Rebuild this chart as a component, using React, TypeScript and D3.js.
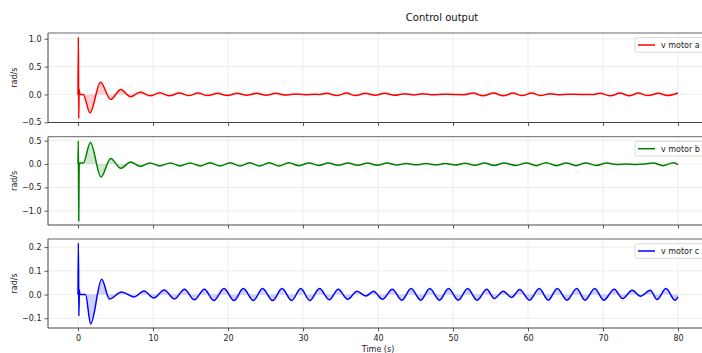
import React, { useEffect, useRef } from 'react';
import * as d3 from 'd3';

// motor a
const timeA = [0, 0.05, 0.1, 0.15, 0.25, 0.7, 1.6, 3.0, 4.35, 5.7, 7.0, 8.3, 9.6, 10.9, 12.2, 13.5, 14.8, 16.0, 17.3, 18.6, 19.9, 21.2, 22.5, 23.8, 25.1, 26.4, 27.7, 29.0, 30.3, 31.6, 32.0, 33.2, 34.5, 35.8, 37.0, 38.3, 39.6, 40.9, 42.2, 43.6, 44.8, 46.0, 47.3, 48.7, 50.0, 51.3, 52.7, 54.0, 55.4, 56.7, 58.0, 59.2, 60.5, 61.7, 62.9, 64.2, 65.4, 67.0, 68.5, 69.6, 71.0, 72.3, 73.5, 74.7, 76.0, 77.4, 78.6, 80.0];
const motorA = [0, 1.03, -0.43, 0.1, 0.0, 0.0, -0.33, 0.22, -0.09, 0.09, -0.04, 0.045, -0.025, 0.03, -0.025, 0.025, -0.02, 0.025, -0.02, 0.02, -0.02, 0.02, -0.015, 0.02, -0.015, 0.02, -0.01, 0.01, -0.005, 0.005, 0.0, 0.02, -0.02, 0.025, -0.02, 0.02, -0.015, 0.02, -0.015, 0.015, -0.01, 0.015, -0.005, 0.005, 0.0, -0.005, 0.025, -0.025, 0.025, -0.025, 0.025, -0.02, 0.025, -0.02, 0.015, -0.005, 0.005, 0.0, 0.0, 0.02, -0.025, 0.025, -0.025, 0.025, -0.02, 0.02, -0.02, 0.025];

// motor b
const timeB = [0, 0.05, 0.1, 0.15, 0.25, 0.7, 1.65, 3.07, 4.35, 5.7, 7.0, 8.3, 9.6, 10.9, 12.3, 13.6, 14.95, 16.3, 17.6, 18.9, 20.3, 21.6, 22.9, 24.2, 25.5, 26.8, 28.1, 29.5, 30.8, 32.1, 33.4, 34.7, 36.0, 37.3, 38.6, 39.9, 41.2, 42.5, 43.8, 45.1, 46.4, 47.7, 49.0, 50.3, 51.6, 52.9, 54.2, 55.5, 56.8, 58.4, 59.8, 61.1, 62.4, 63.8, 65.1, 66.4, 67.7, 69.1, 70.5, 71.8, 73.1, 74.4, 75.6, 76.7, 78.0, 79.4, 80.0];
const motorB = [0, 0.5, -1.22, -0.06, 0.02, 0.02, 0.46, -0.28, 0.12, -0.09, 0.045, -0.05, 0.025, -0.04, 0.025, -0.04, 0.025, -0.04, 0.028, -0.04, 0.028, -0.04, 0.028, -0.04, 0.028, -0.04, 0.028, -0.035, 0.025, -0.03, 0.02, -0.025, 0.02, -0.025, 0.02, -0.025, 0.02, -0.02, 0.01, -0.015, 0.01, -0.015, 0.01, -0.02, 0.015, -0.025, 0.02, -0.03, 0.02, -0.03, 0.025, -0.035, 0.03, -0.035, 0.025, -0.035, 0.025, -0.03, 0.02, -0.01, 0.0, -0.01, 0.0, 0.025, -0.035, 0.03, -0.014];

// motor c
const timeC = [0, 0.05, 0.12, 0.18, 0.25, 1.0, 1.69, 3.16, 4.2, 5.8, 7.47, 8.8, 10.1, 11.5, 12.85, 14.2, 15.5, 16.85, 18.1, 19.47, 20.8, 22.04, 23.4, 24.6, 25.96, 27.2, 28.5, 29.7, 30.9, 32.2, 33.5, 34.7, 35.96, 37.2, 38.4, 39.4, 40.6, 41.9, 43.2, 44.4, 45.7, 46.9, 48.2, 49.4, 50.7, 51.96, 53.2, 54.5, 55.5, 56.7, 57.8, 58.9, 60.2, 61.5, 62.7, 63.9, 65.2, 66.5, 67.6, 68.9, 70.1, 71.5, 72.6, 73.9, 75.0, 76.3, 77.2, 78.4, 79.6, 80.0];
const motorC = [0, 0.217, -0.09, 0.02, 0.0, 0.0, -0.124, 0.064, -0.019, 0.011, -0.01, 0.015, -0.015, 0.019, -0.019, 0.022, -0.022, 0.022, -0.025, 0.025, -0.025, 0.025, -0.025, 0.025, -0.025, 0.025, -0.025, 0.025, -0.025, 0.025, -0.022, 0.022, -0.02, 0.014, -0.006, 0.014, -0.02, 0.022, -0.024, 0.025, -0.024, 0.025, -0.024, 0.025, -0.024, 0.025, -0.024, 0.022, -0.017, 0.014, -0.0125, 0.021, -0.024, 0.025, -0.024, 0.025, -0.024, 0.025, -0.024, 0.025, -0.024, 0.022, -0.017, 0.018, -0.007, 0.018, -0.021, 0.025, -0.024, -0.01];

const xTicks = [0, 10, 20, 30, 40, 50, 60, 70, 80];
const yTicksA = [-0.5, 0.0, 0.5, 1.0];
const yTicksB = [-1.0, -0.5, 0.0, 0.5];
const yTicksC = [-0.1, 0.0, 0.1, 0.2];

const seriesLabels = ['v motor a', 'v motor b', 'v motor c'];

const WIDTH = 702;
const HEIGHT = 353;

const App: React.FC = () => {
  const svgRef = useRef<SVGSVGElement>(null);

  useEffect(() => {
    if (!svgRef.current) return;
    const svg = d3.select(svgRef.current);
    svg.selectAll('*').remove();

    const font = 'DejaVu Sans, sans-serif';
    const panels = [
      { t: timeA, v: motorA, ticks: yTicksA, color: '#ff0000', top: 33, bottom: 122.5 },
      { t: timeB, v: motorB, ticks: yTicksB, color: '#008000', top: 136.7, bottom: 225 },
      { t: timeC, v: motorC, ticks: yTicksC, color: '#0000ff', top: 239, bottom: 328 },
    ];

    const left = 48;
    const right = 708;
    const x = d3.scaleLinear().domain([-4, 84]).range([left, right]);
    const fmt = (d: number) => d3.format('.1f')(d).replace('-', '\u2212');

    svg
      .append('text')
      .attr('x', 442)
      .attr('y', 20.5)
      .attr('text-anchor', 'middle')
      .attr('font-family', font)
      .attr('font-size', '10px')
      .attr('fill', '#111')
      .text('Control output');

    panels.forEach((p, i) => {
      const ext = d3.extent(p.v) as [number, number];
      const pad = (ext[1] - ext[0]) * 0.05;
      const y = d3
        .scaleLinear()
        .domain([ext[0] - pad, ext[1] + pad])
        .range([p.bottom, p.top]);

      const g = svg.append('g');

      // grid
      g.selectAll('line.vgrid')
        .data(xTicks)
        .enter()
        .append('line')
        .attr('x1', (d) => x(d))
        .attr('x2', (d) => x(d))
        .attr('y1', p.top)
        .attr('y2', p.bottom)
        .attr('stroke', '#e8e8e8')
        .attr('stroke-width', 0.8);
      g.selectAll('line.hgrid')
        .data(p.ticks)
        .enter()
        .append('line')
        .attr('x1', left)
        .attr('x2', right)
        .attr('y1', (d) => y(d))
        .attr('y2', (d) => y(d))
        .attr('stroke', '#e8e8e8')
        .attr('stroke-width', 0.8);

      const pts = p.t.map((t, k) => [t, p.v[k]] as [number, number]);

      const area = d3
        .area<[number, number]>()
        .x((d) => x(d[0]))
        .y0(y(0))
        .y1((d) => y(d[1]))
        .curve(d3.curveMonotoneX);
      g.append('path').attr('d', area(pts)).attr('fill', p.color).attr('fill-opacity', 0.18);

      const line = d3
        .line<[number, number]>()
        .x((d) => x(d[0]))
        .y((d) => y(d[1]))
        .curve(d3.curveMonotoneX);
      g.append('path')
        .attr('d', line(pts))
        .attr('fill', 'none')
        .attr('stroke', p.color)
        .attr('stroke-width', 1.5);

      // axes
      const yAxis = g
        .append('g')
        .attr('transform', `translate(${left},0)`)
        .call(d3.axisLeft(y).tickValues(p.ticks).tickFormat((d) => fmt(d as number)).tickSize(3.5).tickPadding(3));
      const xAxis = g
        .append('g')
        .attr('transform', `translate(0,${p.bottom})`)
        .call(d3.axisBottom(x).tickValues(xTicks).tickFormat((d) => (i === 2 ? String(d) : '')).tickSize(3.5).tickPadding(3.5));
      [yAxis, xAxis].forEach((a) => {
        a.select('.domain').remove();
        a.selectAll('line').attr('stroke', '#333').attr('stroke-width', 0.8);
        a.selectAll('text').attr('font-family', font).attr('font-size', '8px').attr('fill', '#222');
      });

      // spines
      g.append('line').attr('x1', left).attr('x2', left).attr('y1', p.top).attr('y2', p.bottom).attr('stroke', '#444').attr('stroke-width', 1);
      g.append('line').attr('x1', left).attr('x2', right).attr('y1', p.bottom).attr('y2', p.bottom).attr('stroke', '#444').attr('stroke-width', 1);
      g.append('line').attr('x1', left).attr('x2', right).attr('y1', p.top).attr('y2', p.top).attr('stroke', '#666').attr('stroke-width', 1);

      // y label
      g.append('text')
        .attr('transform', `translate(17,${(p.top + p.bottom) / 2}) rotate(-90)`)
        .attr('text-anchor', 'middle')
        .attr('font-family', font)
        .attr('font-size', '8px')
        .attr('fill', '#222')
        .text('rad/s');

      // legend
      const lg = g.append('g').attr('transform', `translate(635,${p.top + 4.7})`);
      lg.append('rect')
        .attr('width', 90)
        .attr('height', 14.6)
        .attr('rx', 2)
        .attr('fill', 'white')
        .attr('fill-opacity', 0.85)
        .attr('stroke', '#d0d0d0')
        .attr('stroke-width', 0.8);
      lg.append('line').attr('x1', 3).attr('x2', 20).attr('y1', 7.3).attr('y2', 7.3).attr('stroke', p.color).attr('stroke-width', 1.5);
      lg.append('text')
        .attr('x', 26)
        .attr('y', 10.2)
        .attr('font-family', font)
        .attr('font-size', '8px')
        .attr('fill', '#222')
        .text(seriesLabels[i]);
    });

    svg
      .append('text')
      .attr('x', (left + right) / 2)
      .attr('y', 352)
      .attr('text-anchor', 'middle')
      .attr('font-family', font)
      .attr('font-size', '8px')
      .attr('fill', '#222')
      .text('Time (s)');
  }, []);

  return (
    <svg
      ref={svgRef}
      width={WIDTH}
      height={HEIGHT}
      style={{ position: 'absolute', left: 0, top: 0, background: 'white' }}
    />
  );
};

export default App;
